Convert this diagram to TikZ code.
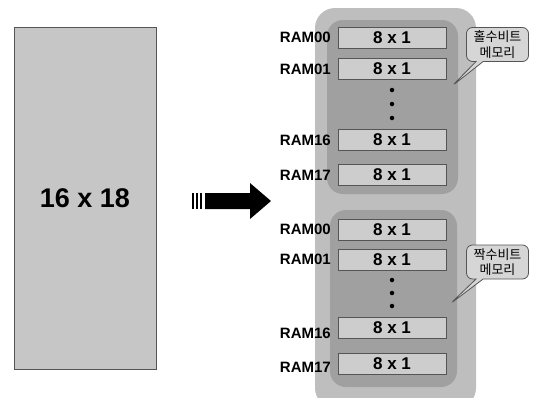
\documentclass[tikz,border=0pt]{standalone}
\usepackage{fontspec}
\setmainfont{Liberation Sans}
\newfontfamily\kofont{Noto Sans CJK KR}
\usetikzlibrary{shapes.callouts}
\definecolor{leftfill}{HTML}{C6C6C6}
\definecolor{outerfill}{HTML}{BEBEBE}
\definecolor{innerfill}{HTML}{A0A0A0}
\definecolor{cellfill}{HTML}{CDCDCD}
\definecolor{callfill}{HTML}{D6D6D6}
\definecolor{edge}{HTML}{555555}
\begin{document}
\begin{tikzpicture}[x=1pt,y=-1pt,
  cellbox/.style={draw=edge, line width=0.8pt, fill=cellfill, minimum width=108pt, minimum height=21pt, inner sep=0pt, font=\fontsize{17}{17}\selectfont\bfseries},
  ramlabel/.style={anchor=east, inner sep=0pt, font=\fontsize{15}{15}\selectfont\bfseries},
  dotmark/.style={circle, fill=black, inner sep=0pt, minimum size=4.5pt},
  callbox/.style={rectangle callout, rounded corners=6pt, draw=edge, line width=0.8pt, fill=callfill, minimum width=62pt, minimum height=34pt, align=center, inner sep=1pt, font=\kofont\fontsize{13}{15.5}\selectfont}
]
\useasboundingbox (0,0) rectangle (544,397);
% left block
\node[draw=edge, line width=0.8pt, fill=leftfill, minimum width=142pt, minimum height=342pt, inner sep=0pt, font=\fontsize{27}{27}\selectfont\bfseries] (big) at (85,198) {16 x 18};
% arrow
\fill (192,193) rectangle (194,209);
\fill (196,193) rectangle (198,209);
\fill (200,193) rectangle (202,209);
\fill (205,193) -- (250,193) -- (250,183) -- (271,201) -- (250,219) -- (250,209) -- (205,209) -- cycle;
% outer and inner groups
\node[draw=none, fill=outerfill, rounded corners=20pt, minimum width=161pt, minimum height=400pt, inner sep=0pt] (outer) at (395.5,208) {};
\node[draw=none, fill=innerfill, rounded corners=16pt, minimum width=131pt, minimum height=174pt, inner sep=0pt] (oddgrp) at (392.5,107) {};
\node[draw=none, fill=innerfill, rounded corners=16pt, minimum width=127pt, minimum height=177pt, inner sep=0pt] (evengrp) at (393.5,298.5) {};
% odd memory cells
\node[cellbox] (o0) at (392,37.5) {8 x 1};
\node[cellbox] (o1) at (392,69) {8 x 1};
\node[cellbox] (o16) at (392,140) {8 x 1};
\node[cellbox] (o17) at (392,175) {8 x 1};
\node[ramlabel] (lo0) at (331,37.5) {RAM00};
\node[ramlabel] (lo1) at (331,69) {RAM01};
\node[ramlabel] (lo16) at (331,140) {RAM16};
\node[ramlabel] (lo17) at (331,175) {RAM17};
\node[dotmark] (od1) at (392,90) {};
\node[dotmark] (od2) at (392,104) {};
\node[dotmark] (od3) at (392,118) {};
% even memory cells
\node[cellbox] (e0) at (392,229.5) {8 x 1};
\node[cellbox] (e1) at (392,259.5) {8 x 1};
\node[cellbox] (e16) at (392,328) {8 x 1};
\node[cellbox] (e17) at (392,363.5) {8 x 1};
\node[ramlabel] (le0) at (331,229.5) {RAM00};
\node[ramlabel] (le1) at (331,259.5) {RAM01};
\node[ramlabel] (le16) at (331,333) {RAM16};
\node[ramlabel] (le17) at (331,367) {RAM17};
\node[dotmark] (ed1) at (392,280) {};
\node[dotmark] (ed2) at (392,293) {};
\node[dotmark] (ed3) at (392,306) {};
% callouts
\coordinate (oddtip) at (452,86);
\coordinate (eventip) at (450,304);
\node[callbox, callout absolute pointer={(oddtip)}] (oddcall) at (497.5,44.5) {홀수비트\\메모리};
\node[callbox, callout absolute pointer={(eventip)}] (evencall) at (497.5,262) {짝수비트\\메모리};
\end{tikzpicture}
\end{document}
